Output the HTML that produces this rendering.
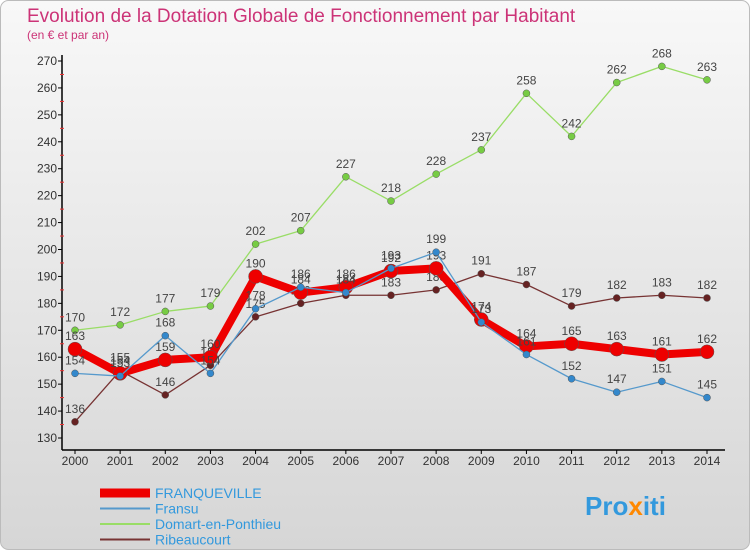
<!DOCTYPE html>
<html><head><meta charset="utf-8"><style>
body{margin:0;background:#fff}
svg{display:block;font-family:"Liberation Sans",sans-serif}
</style></head><body>
<svg width="750" height="550" viewBox="0 0 750 550">
<defs><linearGradient id="bg" x1="0" y1="0" x2="0" y2="1"><stop offset="0" stop-color="#f8f8f8"/><stop offset="1" stop-color="#d6d6d6"/></linearGradient></defs>
<rect x="0.5" y="0.5" width="749" height="549" rx="8" fill="url(#bg)" stroke="#bbb"/>
<text x="27" y="22" font-size="19" fill="#cc3377">Evolution de la Dotation Globale de Fonctionnement par Habitant</text>
<text x="27" y="39" font-size="12" fill="#cc3377">(en € et par an)</text>
<g id="axes"></g><g id="series"></g>
<g id="legend"></g>
<text x="585" y="515" font-size="26" font-weight="bold" fill="#3399dd">Pro<tspan fill="#ff8800">x</tspan>iti</text>
</svg>
<script>
const years=[2000,2001,2002,2003,2004,2005,2006,2007,2008,2009,2010,2011,2012,2013,2014];
const franq=[163,154,159,160,190,184,186,192,193,174,164,165,163,161,162];
const fransu=[154,153,168,154,178,186,184,193,199,173,161,152,147,151,145];
const domart=[170,172,177,179,202,207,227,218,228,237,258,242,262,268,263];
const ribeau=[136,155,146,157,175,180,183,183,185,191,187,179,182,183,182];
const yTicks=[130,140,150,160,170,180,190,200,210,220,230,240,250,260,270];
const NS="http://www.w3.org/2000/svg";
const x=i=>75+i*(707-75)/(years.length-1);
const y=v=>438-(v-130)*(438-61)/140;
function mk(tag,attrs,parent){const e=document.createElementNS(NS,tag);for(const k in attrs)e.setAttribute(k,attrs[k]);parent.appendChild(e);return e;}
const ax=document.getElementById('axes');
let l=mk('line',{x1:62,y1:55,x2:62,y2:450,stroke:'#000','stroke-width':1.5},ax);


l=mk('line',{x1:62,y1:450,x2:725,y2:450,stroke:'#000','stroke-width':1.5},ax);


yTicks.forEach(v=>{
 const t=mk('text',{x:57,y:y(v)+4,'font-size':12,'text-anchor':'end',fill:'#333'},ax);t.textContent=v;
 
 
 mk('line',{x1:58,y1:y(v),x2:62,y2:y(v),stroke:'#000'},ax);
 if(v<270)mk('line',{x1:60,y1:y(v+5),x2:64,y2:y(v+5),stroke:'#e33'},ax);
});
years.forEach((yr,i)=>{
 const t=mk('text',{x:x(i),y:465,'font-size':12,'text-anchor':'middle',fill:'#333'},ax);t.textContent=yr;
 
 
 mk('line',{x1:x(i),y1:450,x2:x(i),y2:454,stroke:'#000'},ax);
});
const sg=document.getElementById('series');
function draw(data,color,w,r,name,dot){
 const g=mk('g',{},sg);
 
 
 mk('polyline',{points:data.map((v,i)=>x(i)+','+y(v)).join(' '),fill:'none',stroke:color,'stroke-width':w,'stroke-linejoin':'round'},g);
 data.forEach((v,i)=>{
  const c=mk('circle',{cx:x(i),cy:y(v),r:r,fill:dot,stroke:'#555','stroke-width':0.5},g);
  
  
  const t=mk('text',{x:x(i),y:y(v)-9,'font-size':12,'text-anchor':'middle',fill:'#444'},g);t.textContent=v;
  
  
 });
}
draw(domart,'#99dd66',1.3,3.5,'series-domart','#77cc44');
draw(ribeau,'#773333',1.3,3.5,'series-ribeaucourt','#662222');
draw(franq,'#ee0000',8,7,'series-franqueville','#ee0000');
draw(fransu,'#5599cc',1.3,3.5,'series-fransu','#3388cc');
const lg=document.getElementById('legend');
[['FRANQUEVILLE','#ee0000',9],['Fransu','#5599cc',2],['Domart-en-Ponthieu','#99dd66',2],['Ribeaucourt','#773333',2]].forEach((d,i)=>{
 const yy=493+i*15.5;
 const g=mk('g',{},lg);
 
 
 mk('line',{x1:100,y1:yy,x2:150,y2:yy,stroke:d[1],'stroke-width':d[2]},g);
 const t=mk('text',{x:155,y:yy+5,'font-size':14,fill:'#3399dd'},g);t.textContent=d[0];
});
</script>
</body></html>
